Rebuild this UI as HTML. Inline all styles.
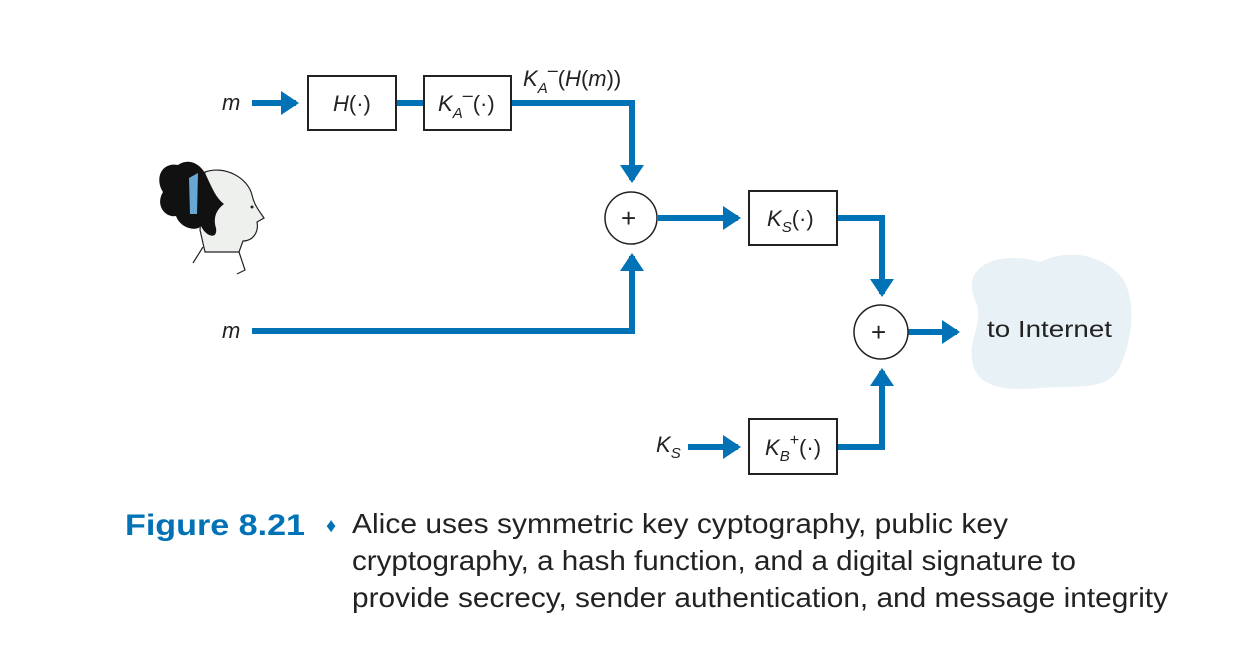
<!DOCTYPE html>
<html><head><meta charset="utf-8"><style>
html,body{margin:0;padding:0;background:#fff;}
svg{display:block;}
text{font-family:"Liberation Sans",sans-serif;}
</style></head><body>
<svg width="1253" height="650" viewBox="0 0 1253 650" xmlns="http://www.w3.org/2000/svg">
<defs>
<marker id="ah" markerWidth="4" markerHeight="4" refX="2.5" refY="2" orient="auto" markerUnits="strokeWidth">
<path d="M0,0 L3,2 L0,4 Z" fill="#0072b5"/>
</marker>
</defs>
<path d="M975,300 C960,265 1000,250 1040,262 C1070,248 1100,255 1120,275 C1140,300 1130,350 1118,370 C1105,392 1070,385 1040,388 C1000,392 975,385 972,360 C968,340 985,320 975,300 Z" fill="#e8f1f6"/>
<g stroke="#0072b5" stroke-width="6" fill="none">
<line x1="252" y1="103" x2="296" y2="103" marker-end="url(#ah)"/>
<line x1="396" y1="103" x2="424" y2="103"/>
<polyline points="511,103 632,103 632,180" marker-end="url(#ah)"/>
<polyline points="252,331 632,331 632,256" marker-end="url(#ah)"/>
<line x1="658" y1="218" x2="738" y2="218" marker-end="url(#ah)"/>
<polyline points="837,218 882,218 882,294" marker-end="url(#ah)"/>
<polyline points="837,447 882,447 882,371" marker-end="url(#ah)"/>
<line x1="688" y1="447" x2="738" y2="447" marker-end="url(#ah)"/>
<line x1="908" y1="332" x2="957" y2="332" marker-end="url(#ah)"/>
</g>
<g fill="#fff" stroke="#222" stroke-width="2">
<rect x="308" y="76" width="88" height="54"/>
<rect x="424" y="76" width="87" height="54"/>
<rect x="749" y="191" width="88" height="54"/>
<rect x="749" y="419" width="88" height="55"/>
<circle cx="631" cy="218" r="26" stroke-width="1.5"/>
<circle cx="881" cy="332" r="27" stroke-width="1.5"/>
</g>
<g font-size="22" fill="#222">
<text x="621" y="227" font-size="26">+</text>
<text x="871" y="341" font-size="26">+</text>
<text x="222" y="110" font-style="italic">m</text>
<text x="222" y="338" font-style="italic">m</text>
<text x="333" y="111" font-style="italic">H<tspan font-style="normal">(·)</tspan></text>
<text x="438" y="111" font-style="italic">K<tspan font-size="15" dy="7">A</tspan><tspan font-size="18" dy="-17">–</tspan><tspan dy="10" font-style="normal">(·)</tspan></text>
<text x="523" y="86" font-style="italic">K<tspan font-size="15" dy="7">A</tspan><tspan font-size="18" dy="-17">–</tspan><tspan dy="10" font-style="normal">(</tspan>H<tspan font-style="normal">(</tspan>m<tspan font-style="normal">))</tspan></text>
<text x="767" y="226" font-style="italic">K<tspan font-size="15" dy="6">S</tspan><tspan dy="-6" font-style="normal">(·)</tspan></text>
<text x="765" y="455" font-style="italic">K<tspan font-size="15" dy="6">B</tspan><tspan font-size="16" dy="-16" font-style="normal">+</tspan><tspan dy="10" font-style="normal">(·)</tspan></text>
<text x="656" y="452" font-style="italic">K<tspan font-size="15" dy="6">S</tspan></text>
<text x="987" y="337" font-size="23" textLength="125" lengthAdjust="spacingAndGlyphs">to Internet</text>
</g>
<g>
<path d="M205,172 C225,165 248,178 252,195 C254,205 260,212 264,218 L257,222 C259,232 253,241 243,241 L239,252 L205,252 L200,230 Z" fill="#eef0ee" stroke="#222" stroke-width="1.2"/>
<path d="M178,165 C160,162 155,180 163,192 C155,205 165,218 176,216 C180,228 196,232 201,226 C206,237 218,240 216,228 C213,218 216,210 224,204 C216,198 212,188 206,175 C200,163 188,158 178,165 Z" fill="#111"/>
<path d="M189,178 L198,173 L197,214 L190,214 Z" fill="#6aa8d4"/>
<circle cx="252" cy="207" r="1.5" fill="#222"/>
<path d="M203,247 L193,263 M239,252 L245,270 L237,274" stroke="#222" stroke-width="1.2" fill="none"/>
</g>
<text x="125" y="535" font-size="30" font-weight="bold" fill="#0072b5" textLength="180" lengthAdjust="spacingAndGlyphs">Figure 8.21</text>
<text x="326" y="532" font-size="20" fill="#0072b5">♦</text>
<g font-size="28" fill="#222">
<text x="352" y="533" textLength="656" lengthAdjust="spacingAndGlyphs">Alice uses symmetric key cyptography, public key</text>
<text x="352" y="570" textLength="724" lengthAdjust="spacingAndGlyphs">cryptography, a hash function, and a digital signature to</text>
<text x="352" y="607" textLength="816" lengthAdjust="spacingAndGlyphs">provide secrecy, sender authentication, and message integrity</text>
</g>
</svg>
</body></html>
